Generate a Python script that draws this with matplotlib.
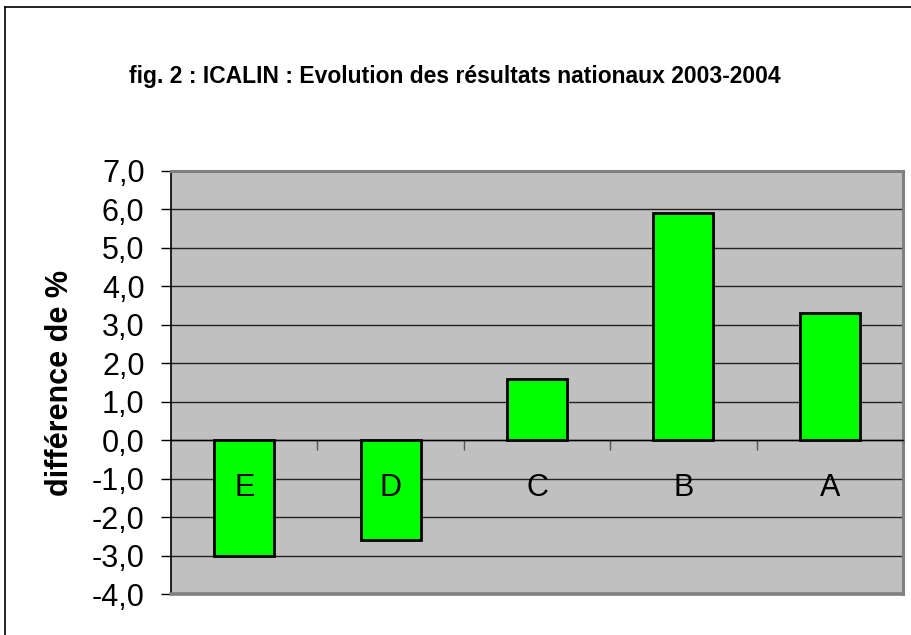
import matplotlib.pyplot as plt
from matplotlib.lines import Line2D

categories = ["E", "D", "C", "B", "A"]
values = [-3.0, -2.6, 1.6, 5.9, 3.3]
yticks = [-4, -3, -2, -1, 0, 1, 2, 3, 4, 5, 6, 7]

plt.rcParams["font.family"] = ["Liberation Sans", "DejaVu Sans"]

W, H = 911, 635
fig = plt.figure(figsize=(W / 100, H / 100), dpi=100)
ax = fig.add_axes([171 / W, (H - 594) / H, (903 - 171) / W, (594 - 171) / H])
ax.set_facecolor("#C0C0C0")

x = list(range(len(categories)))
ax.set_xlim(-0.5, len(categories) - 0.5)
ax.set_ylim(-4, 7)

ax.grid(axis="y", color="#222222", lw=1.0)
ax.set_axisbelow(True)

ax.bar(x, values, width=0.41, color="#00FF00", edgecolor="black", lw=2.0, zorder=3)

for xi, lab in zip(x, categories):
    ax.text(xi, -1.25, lab, ha="center", va="center", fontsize=22, zorder=4)

# y axis
ax.set_yticks(yticks)
ax.set_yticklabels([("%.1f" % v).replace(".", ",") for v in yticks])
ax.tick_params(axis="y", direction="out", length=7, width=1, labelsize=22, pad=12)
ax.spines["left"].set_color("black")
ax.spines["left"].set_linewidth(1.2)

# x axis crossing at zero, ticks at category boundaries
ax.spines["bottom"].set_position(("data", 0))
ax.spines["bottom"].set_color("black")
ax.spines["bottom"].set_linewidth(1.0)
ax.set_xticks([i + 0.5 for i in range(len(categories) - 1)])
ax.set_xticklabels([])
ax.tick_params(axis="x", direction="out", length=7, width=1, color="#555555")

for s in ["top", "right"]:
    ax.spines[s].set_color("#808080")
    ax.spines[s].set_linewidth(2.2)
ax.axhline(-4, color="#808080", lw=2.6, clip_on=False, zorder=5)

ax.set_ylabel("différence de %", fontsize=22, fontweight="bold", labelpad=12)

fig.text(455 / W, (H - 76) / H, "fig. 2 : ICALIN : Evolution des résultats nationaux 2003-2004",
         ha="center", va="center", fontsize=16.5, fontweight="bold")

# chart border (left and top visible)
fig.add_artist(Line2D([5 / W, 5 / W], [0, (H - 7) / H], color="black", lw=1.2, transform=fig.transFigure))
fig.add_artist(Line2D([5 / W, 1], [(H - 7) / H, (H - 7) / H], color="black", lw=1.2, transform=fig.transFigure))

fig.savefig("out.png", dpi=100)
